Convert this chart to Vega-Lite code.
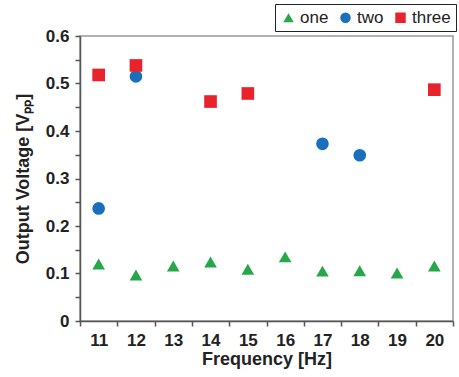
{
  "$schema": "https://vega.github.io/schema/vega-lite/v6.json",
  "width": 373,
  "height": 285,
  "autosize": {"type": "none"},
  "padding": {"left": 80, "top": 36, "right": 6, "bottom": 56},
  "config": {
    "view": {"stroke": "#999999", "strokeWidth": 1.5},
    "font": "Liberation Sans"
  },
  "data": {
    "values": [
      {"f": "11", "series": "one", "v": 0.120},
      {"f": "12", "series": "one", "v": 0.097},
      {"f": "13", "series": "one", "v": 0.116},
      {"f": "14", "series": "one", "v": 0.124},
      {"f": "15", "series": "one", "v": 0.109},
      {"f": "16", "series": "one", "v": 0.135},
      {"f": "17", "series": "one", "v": 0.105},
      {"f": "18", "series": "one", "v": 0.106},
      {"f": "19", "series": "one", "v": 0.101},
      {"f": "20", "series": "one", "v": 0.116},
      {"f": "11", "series": "two", "v": 0.237},
      {"f": "12", "series": "two", "v": 0.515},
      {"f": "17", "series": "two", "v": 0.373},
      {"f": "18", "series": "two", "v": 0.349},
      {"f": "11", "series": "three", "v": 0.518},
      {"f": "12", "series": "three", "v": 0.538},
      {"f": "14", "series": "three", "v": 0.462},
      {"f": "15", "series": "three", "v": 0.479},
      {"f": "20", "series": "three", "v": 0.487}
    ]
  },
  "mark": {"type": "point", "filled": true, "opacity": 1},
  "encoding": {
    "x": {
      "field": "f",
      "type": "ordinal",
      "sort": ["11","12","13","14","15","16","17","18","19","20"],
      "scale": {"paddingInner": 0, "paddingOuter": 0},
      "axis": {
        "title": "Frequency [Hz]",
        "labelAngle": 0,
        "tickBand": "extent",
        "labelFont": "Liberation Sans",
        "labelFontWeight": "bold",
        "labelFontSize": 17,
        "labelColor": "#222222",
        "labelPadding": 6,
        "titleFont": "Liberation Sans",
        "titleFontWeight": "bold",
        "titleFontSize": 18,
        "titleColor": "#222222",
        "titlePadding": 2,
        "domainColor": "#555555",
        "domainWidth": 1.5,
        "tickColor": "#555555",
        "tickWidth": 1.5,
        "tickSize": 5
      }
    },
    "y": {
      "field": "v",
      "type": "quantitative",
      "scale": {"domain": [0, 0.6]},
      "axis": {
        "title": "Output Voltage [Vₚₚ]",
        "values": [0, 0.05, 0.1, 0.15, 0.2, 0.25, 0.3, 0.35, 0.4, 0.45, 0.5, 0.55, 0.6],
        "labelExpr": "datum.value == 0 ? '0' : (round(datum.value*20) % 2 == 0 ? format(datum.value, '.1f') : '')",
        "grid": false,
        "labelFont": "Liberation Sans",
        "labelFontWeight": "bold",
        "labelFontSize": 17,
        "labelColor": "#222222",
        "labelPadding": 6,
        "titleFont": "Liberation Sans",
        "titleFontWeight": "bold",
        "titleFontSize": 18,
        "titleColor": "#222222",
        "titlePadding": 13,
        "domainColor": "#555555",
        "domainWidth": 1.5,
        "tickColor": "#555555",
        "tickWidth": 1.5,
        "tickSize": 5
      }
    },
    "shape": {
      "field": "series",
      "type": "nominal",
      "scale": {"domain": ["one", "two", "three"], "range": ["triangle-up", "circle", "square"]},
      "legend": {
        "title": null,
        "orient": "none",
        "legendX": 195,
        "legendY": -32,
        "direction": "horizontal",
        "strokeColor": "#222222",
        "padding": 5,
        "labelFont": "Liberation Sans",
        "labelFontSize": 17,
        "labelColor": "#222222",
        "symbolSize": 110,
        "columnPadding": 8,
        "labelOffset": 3
      }
    },
    "color": {
      "field": "series",
      "type": "nominal",
      "scale": {"domain": ["one", "two", "three"], "range": ["#26a84a", "#1a6fbd", "#e9232b"]},
      "legend": {
        "title": null,
        "orient": "none",
        "legendX": 195,
        "legendY": -32,
        "direction": "horizontal",
        "strokeColor": "#222222",
        "padding": 5,
        "labelFont": "Liberation Sans",
        "labelFontSize": 17,
        "labelColor": "#222222",
        "symbolSize": 110,
        "columnPadding": 8,
        "labelOffset": 3
      }
    },
    "size": {"value": 160}
  }
}
